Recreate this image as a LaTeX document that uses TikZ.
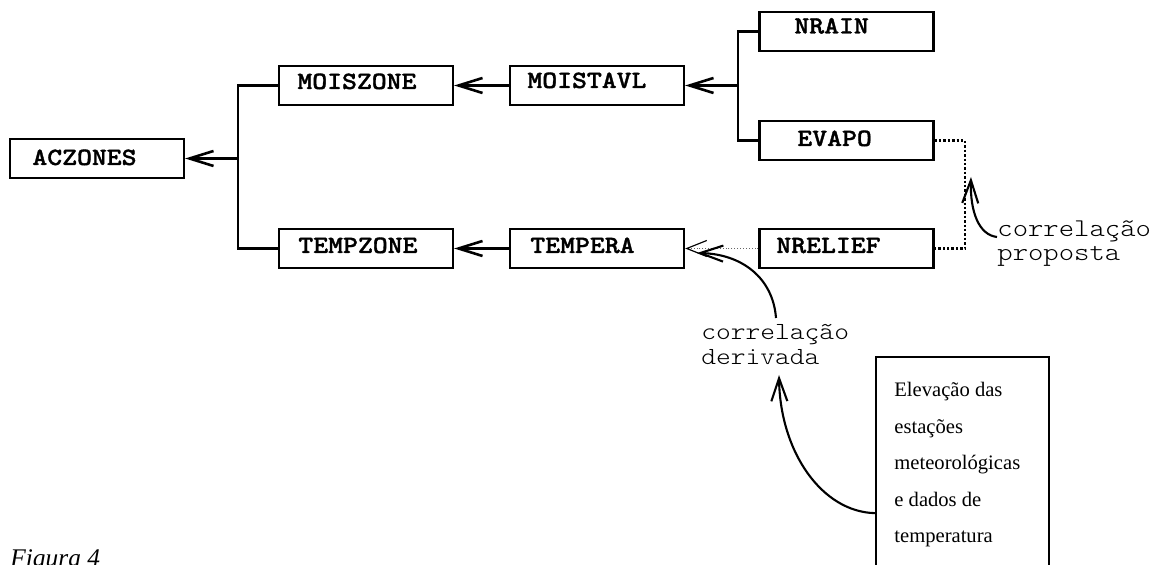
\documentclass[tikz,border=0pt]{standalone}
\usepackage{fontspec}
\setmainfont{Liberation Serif}
% slab-serif typewriter faces, widened to the usual 0.6em typewriter pitch
\newfontfamily\boxfont{lmmonolt10-bold.otf}[FakeStretch=1.143,FakeBold=1.3]
\newfontfamily\notefont{lmmonolt10-regular.otf}[FakeStretch=1.143]
\usetikzlibrary{arrows.meta,calc}
\begin{document}
\begin{tikzpicture}[x=0.5pt,y=-0.5pt,
  box/.style={draw, line width=1.15pt, minimum width=87pt, minimum height=19.5pt, inner sep=0pt},
  lbl/.style={font=\boxfont\fontsize{12.4}{14}\selectfont, inner sep=0pt, anchor=base west},
  link/.style={line width=1.3pt},
  arr/.style={line width=1.3pt, -{Straight Barb[length=12pt,width=7.5pt]}},
  curvearr/.style={line width=1.05pt, -{Straight Barb[length=11.5pt,width=8pt]}},
  dots/.style={line width=1.3pt, dash pattern=on 1.2pt off 1pt},
  faint/.style={line width=0.45pt, densely dotted, draw=black!60,
    -{Straight Barb[length=10pt,width=8pt,line width=0.6pt,color=black]}},
  note/.style={font=\notefont\fontsize{#1}{#1}\selectfont, inner sep=0pt, align=left, anchor=north west}
]
\useasboundingbox (0,0) rectangle (1164,565);
\clip (0,0) rectangle (1164,565);

% boxes
\node[box] (aczones)  at (97,158.5)   {};
\node[box] (moiszone) at (366,85.5)   {};
\node[box] (tempzone) at (366,248.5)  {};
\node[box] (moistavl) at (597,85.5)   {};
\node[box] (tempera)  at (597,248.5)  {};
\node[box] (nrain)    at (846.5,31.5) {};
\node[box] (evapo)    at (846.5,140.5){};
\node[box] (nrelief)  at (846.5,248.5){};

% box labels
\node[lbl] (t-aczones)  at (32,165)  {ACZONES};
\node[lbl] (t-moiszone) at (297,89)  {MOISZONE};
\node[lbl] (t-tempzone) at (298,253) {TEMPZONE};
\node[lbl] (t-moistavl) at (527,88)  {MOISTAVL};
\node[lbl] (t-tempera)  at (530,253) {TEMPERA};
\node[lbl] (t-nrain)    at (794,33.5){NRAIN};
\node[lbl] (t-evapo)    at (797,146) {EVAPO};
\node[lbl] (t-nrelief)  at (776,253) {NRELIEF};

% junction points of the two forks
\coordinate (j1) at (238,158.5);
\coordinate (j2) at (738,85.5);
\coordinate (dj) at (965,194);

\draw[link] (moiszone.west) -| (j1) |- (tempzone.west);
\draw[arr]  (j1) -- (aczones.east);
\draw[arr]  (moistavl.west) -- (moiszone.east);
\draw[arr]  (tempera.west) -- (tempzone.east);
\draw[link] (nrain.west) -| (j2) |- (evapo.west);
\draw[arr]  (j2) -- (moistavl.east);

% proposed and derived correlations
\draw[dots]  (evapo.east) -| (dj) |- (nrelief.east);
\draw[faint] (nrelief.west) -- (tempera.east);

\node[note=12.8] (prop)  at (997,220) {correlação\\[-0.5pt]proposta};
\node[note=12.3] (deriv) at (701,324) {correlação\\derivada};

\node[draw, line width=1.15pt, anchor=north west, minimum width=86.5pt,
      minimum height=156pt, inner sep=0pt] (elev) at (875,356) {};
\node[font=\fontsize{10.3}{18.25}\selectfont, inner sep=0pt, align=left,
      anchor=north west] (elevtext) at (894,382)
  {Elevação das\\estações\\meteorológicas\\e dados de\\temperatura};

\coordinate (tip1) at (971,177);
\coordinate (tip2) at (697,253);
\coordinate (tip3) at (779,375);

\draw[curvearr] (997,237) .. controls (979,235) and (970,212) .. (tip1);
\draw[curvearr] (776,318) .. controls (773,278) and (742,254) .. (tip2);
\draw[curvearr] (elev.west) .. controls (822,512) and (780,452) .. (tip3);

\node[font=\itshape\fontsize{12.7}{14}\selectfont, inner sep=0pt, anchor=base west]
  (fig) at (10,567) {Figura 4};
\end{tikzpicture}
\end{document}
